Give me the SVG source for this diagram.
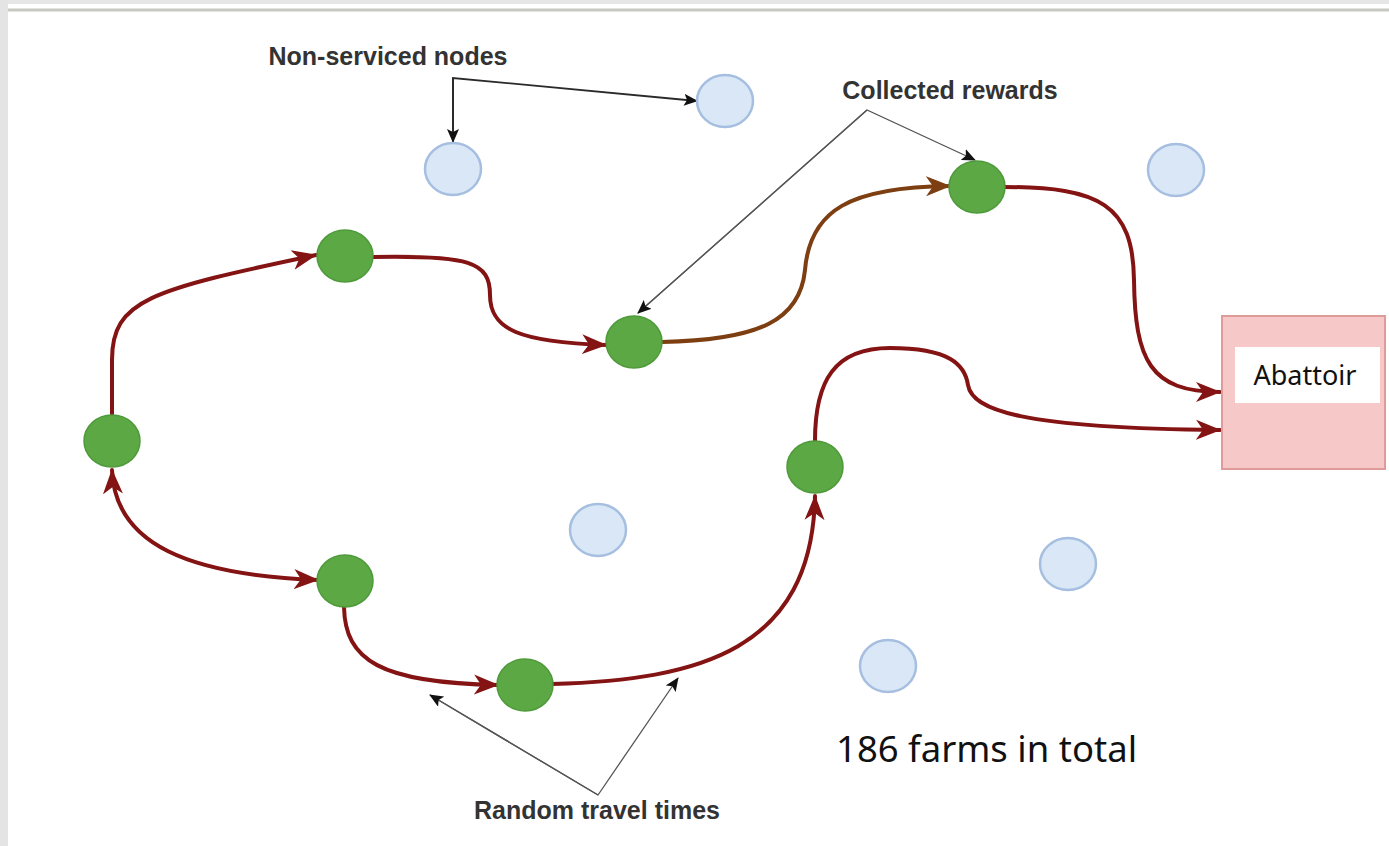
<svg xmlns="http://www.w3.org/2000/svg" width="1389" height="846" viewBox="0 0 1389 846">
  <style>
    .farm { fill: #5ba844; stroke: #4f9a3b; stroke-width: 1.5; }
    .idle { fill: #dae7f6; stroke: #a6bfe0; stroke-width: 2.5; }
    .route { fill: none; stroke: #841313; stroke-width: 4; stroke-linecap: round; }
    .route.brown { stroke: #7d3e12; }
    .note { fill: none; stroke: #2a2a2a; stroke-width: 1.8; }
    .note.light { stroke: #555; stroke-width: 1.3; }
    .label { font-family: "Liberation Sans", Arial, sans-serif; font-weight: bold; font-size: 25px; fill: #333; }
    .plain { font-family: "Noto Sans", "Open Sans", sans-serif; fill: #111; }
  </style>
  <defs>
    <marker id="arrRed" markerUnits="userSpaceOnUse" markerWidth="26" markerHeight="22" viewBox="0 0 26 22" refX="24" refY="11" orient="auto-start-reverse">
      <path d="M0,1 L25,11 L0,21 L7,11 Z" fill="#841313"/>
    </marker>
    <marker id="arrBrown" markerUnits="userSpaceOnUse" markerWidth="26" markerHeight="22" viewBox="0 0 26 22" refX="24" refY="11" orient="auto">
      <path d="M0,1 L25,11 L0,21 L7,11 Z" fill="#7d3e12"/>
    </marker>
    <marker id="arrInk" markerUnits="userSpaceOnUse" markerWidth="14" markerHeight="12" viewBox="0 0 14 12" refX="13" refY="6" orient="auto">
      <path d="M0,0 L14,6 L0,12 L3,6 Z" fill="#111"/>
    </marker>
  </defs>

  <!-- page frame -->
  <rect x="0" y="0" width="1389" height="846" fill="#ffffff"/>
  <rect x="0" y="0" width="1389" height="4" fill="#e6e6e6"/>
  <rect x="0" y="0" width="8" height="846" fill="#e4e4e4"/>
  <line x1="8" y1="10" x2="1389" y2="10" stroke="#c8c8c0" stroke-width="3"/>

  <!-- connectors -->
  <g id="connectors">
    <path class="route" d="M112,414 L112,360 C112,300 150,290 316,255" marker-end="url(#arrRed)"/>
    <path class="route" d="M372,257 C470,255 490,262 490,295 C490,330 520,342 606,345" marker-end="url(#arrRed)"/>
    <path class="route brown" d="M662,342 C760,340 800,320 805,270 C810,210 850,187 950,186" marker-end="url(#arrBrown)"/>
    <path class="route" d="M1004,187 C1100,187 1133,205 1134,280 C1135,360 1150,392 1220,392" marker-end="url(#arrRed)"/>
    <path class="route" d="M815,441 C815,380 835,348 890,348 C950,348 965,365 968,385 C972,410 1020,428 1220,430" marker-end="url(#arrRed)"/>
    <path class="route" d="M112,470 C115,545 190,575 318,580" marker-start="url(#arrRed)" marker-end="url(#arrRed)"/>
    <path class="route" d="M344,607 C345,660 380,683 498,685" marker-end="url(#arrRed)"/>
    <path class="route" d="M552,684 C700,680 812,650 815,496" marker-end="url(#arrRed)"/>

    <!-- annotation pointers -->
    <polyline class="note" points="453,142 453,78 697,101" marker-end="url(#arrInk)"/>
    <line class="note" x1="453" y1="78" x2="453" y2="142" marker-end="url(#arrInk)"/>
    <polyline class="note light" points="638,313 867,110 975,160" marker-end="url(#arrInk)"/>
    <line class="note light" x1="867" y1="110" x2="638" y2="313" marker-end="url(#arrInk)"/>
    <polyline class="note light" points="430,695 598,795 678,678" marker-end="url(#arrInk)"/>
    <line class="note light" x1="598" y1="795" x2="430" y2="695" marker-end="url(#arrInk)"/>
  </g>

  <!-- serviced farms -->
  <g id="farm-a"><ellipse class="farm" cx="112" cy="441" rx="28" ry="26"/></g>
  <g id="farm-b"><ellipse class="farm" cx="345" cy="256" rx="28" ry="26"/></g>
  <g id="farm-c"><ellipse class="farm" cx="634" cy="342" rx="28" ry="26"/></g>
  <g id="farm-d"><ellipse class="farm" cx="977" cy="187" rx="28" ry="26"/></g>
  <g id="farm-e"><ellipse class="farm" cx="345" cy="581" rx="28" ry="26"/></g>
  <g id="farm-f"><ellipse class="farm" cx="525" cy="685" rx="28" ry="26"/></g>
  <g id="farm-g"><ellipse class="farm" cx="815" cy="467" rx="28" ry="26"/></g>

  <!-- non-serviced farms -->
  <g id="idle-1"><ellipse class="idle" cx="725" cy="101" rx="28" ry="26"/></g>
  <g id="idle-2"><ellipse class="idle" cx="453" cy="169" rx="28" ry="26"/></g>
  <g id="idle-3"><ellipse class="idle" cx="1176" cy="170" rx="28" ry="26"/></g>
  <g id="idle-4"><ellipse class="idle" cx="598" cy="530" rx="28" ry="26"/></g>
  <g id="idle-5"><ellipse class="idle" cx="1068" cy="564" rx="28" ry="26"/></g>
  <g id="idle-6"><ellipse class="idle" cx="888" cy="666" rx="28" ry="26"/></g>

  <!-- abattoir -->
  <g id="abattoir">
    <rect x="1222" y="316" width="163" height="153" fill="#f6c8c8" stroke="#df9a9a" stroke-width="2"/>
    <rect x="1235" y="347" width="145" height="56" fill="#ffffff"/>
    <text class="plain" x="1305" y="385" font-size="27" text-anchor="middle">Abattoir</text>
  </g>

  <!-- labels -->
  <g id="label-nonserviced"><text class="label" x="388" y="65" text-anchor="middle">Non-serviced nodes</text></g>
  <g id="label-rewards"><text class="label" x="950" y="99" text-anchor="middle">Collected rewards</text></g>
  <g id="label-travel"><text class="label" x="597" y="819" text-anchor="middle">Random travel times</text></g>
  <g id="label-total"><text class="plain" x="836" y="762" font-size="36.5">186 farms in total</text></g>
</svg>
